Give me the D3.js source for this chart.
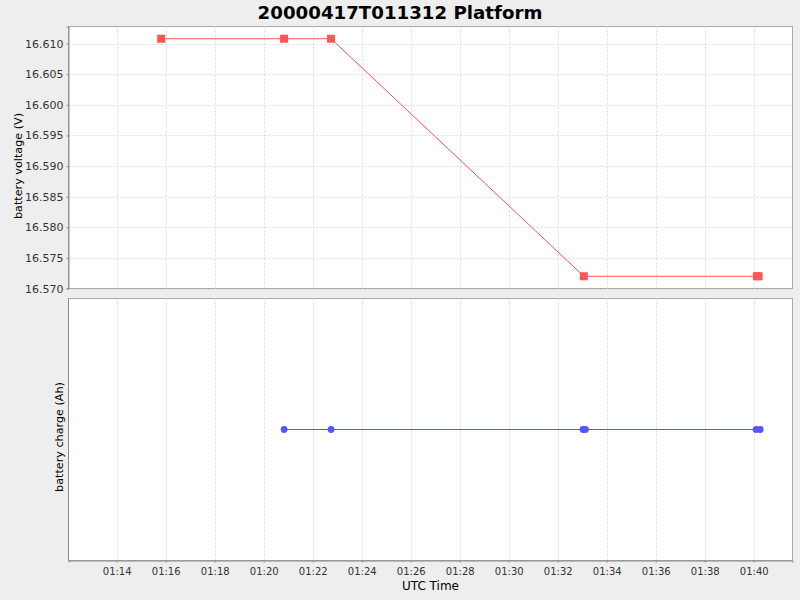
<!DOCTYPE html>
<html><head><meta charset="utf-8">
<script src="https://cdn.jsdelivr.net/npm/d3@7"></script>
<style>
html,body{margin:0;padding:0;background:#eeeeee;}
svg{display:block;font-family:"DejaVu Sans",sans-serif;}
</style></head>
<body><svg id="c" width="800" height="600"></svg>
<script>
const title = "20000417T011312 Platform";
const voltageTimes = ["01:15:49","01:20:50","01:22:45","01:33:04","01:40:08","01:40:12"];
const voltageValues = [16.6108,16.6108,16.6108,16.572,16.572,16.572];
const chargeTimes = ["01:20:50","01:22:45","01:33:02","01:33:08","01:40:06","01:40:16"];
const chargeValues = [0,0,0,0,0,0];
const voltageTicks = [16.570,16.575,16.580,16.585,16.590,16.595,16.600,16.605,16.610];
const timeTicks = ["01:14","01:16","01:18","01:20","01:22","01:24","01:26","01:28","01:30","01:32","01:34","01:36","01:38","01:40"];
const timeDomain = ["01:12:02","01:41:35"];
const voltageDomain = [16.570, 16.6128];
const chargeDomain = [-1, 1];

const parse = d3.timeParse("%H:%M:%S");
const parseHM = d3.timeParse("%H:%M");
const svg = d3.select("#c");
const L = 68.5, R = 792.5;
const top1 = 26.5, bot1 = 288.5, top2 = 298.5, bot2 = 560.5;

const x = d3.scaleTime().domain(timeDomain.map(parse)).range([L, R]);
const y1 = d3.scaleLinear().domain(voltageDomain).range([bot1, top1]);
const y2 = d3.scaleLinear().domain(chargeDomain).range([bot2, top2]);

svg.append("text").attr("x", 400).attr("y", 19).attr("text-anchor", "middle")
  .attr("font-size", 18.2).attr("font-weight", "bold").attr("fill", "#000").text(title);

function panel(top, bot) {
  svg.append("rect").attr("x", L).attr("y", top).attr("width", R - L).attr("height", bot - top)
    .attr("fill", "#fff").attr("stroke", "#aaaaaa").attr("stroke-width", 1);
  const g = svg.append("g");
  timeTicks.forEach(t => {
    const xx = Math.round(x(parseHM(t))) + 0.5;
    g.append("line").attr("x1", xx).attr("x2", xx).attr("y1", top).attr("y2", bot)
      .attr("stroke", "#dddddd").attr("stroke-dasharray", "2,2");
  });
  return g;
}

const g1 = panel(top1, bot1);
voltageTicks.forEach(v => {
  const yy = Math.round(y1(v)) + 0.5;
  g1.append("line").attr("x1", L).attr("x2", R).attr("y1", yy).attr("y2", yy)
    .attr("stroke", "#dddddd").attr("stroke-dasharray", "2,2");
});
panel(top2, bot2);

const ax1 = svg.append("g").attr("transform", `translate(${L},0)`)
  .call(d3.axisLeft(y1).tickValues(voltageTicks).tickFormat(d3.format(".3f")).tickSize(2).tickPadding(3));
ax1.select(".domain").attr("stroke", "#888");
ax1.selectAll(".tick line").attr("stroke", "#888");
ax1.selectAll("text").attr("font-size", 11).attr("fill", "#333").attr("font-family", "DejaVu Sans");

svg.append("line").attr("x1", L).attr("x2", L).attr("y1", top2).attr("y2", bot2).attr("stroke", "#888");

const axb = svg.append("g").attr("transform", `translate(0,${bot2})`)
  .call(d3.axisBottom(x).tickValues(timeTicks.map(parseHM)).tickFormat(d3.timeFormat("%H:%M")).tickSize(2).tickPadding(5));
axb.select(".domain").attr("stroke", "#888");
axb.selectAll(".tick line").attr("stroke", "#888");
axb.selectAll("text").attr("font-size", 10).attr("fill", "#333").attr("font-family", "DejaVu Sans");

svg.append("text").attr("transform", "translate(22,166) rotate(-90)").attr("text-anchor", "middle")
  .attr("font-size", 11.2).attr("fill", "#000").text("battery voltage (V)");
svg.append("text").attr("transform", "translate(63,437) rotate(-90)").attr("text-anchor", "middle")
  .attr("font-size", 11.2).attr("fill", "#000").text("battery charge (Ah)");
svg.append("text").attr("x", (L + R) / 2).attr("y", 590).attr("text-anchor", "middle")
  .attr("font-size", 12).attr("fill", "#000").text("UTC Time");

const vData = voltageTimes.map((t, i) => ({t: parse(t), v: voltageValues[i]}));
svg.append("path").datum(vData)
  .attr("d", d3.line().x(d => x(d.t)).y(d => y1(d.v)))
  .attr("fill", "none").attr("stroke", "#ff5555").attr("stroke-width", 1);
svg.selectAll(".sq").data(vData).enter().append("rect")
  .attr("x", d => x(d.t) - 4).attr("y", d => y1(d.v) - 4)
  .attr("width", 8).attr("height", 8).attr("fill", "#ff5555");

const cData = chargeTimes.map((t, i) => ({t: parse(t), v: chargeValues[i]}));
svg.append("path").datum(cData)
  .attr("d", d3.line().x(d => x(d.t)).y(d => y2(d.v)))
  .attr("fill", "none").attr("stroke", "#5555ff").attr("stroke-width", 1);
svg.selectAll(".dot").data(cData).enter().append("circle")
  .attr("cx", d => x(d.t)).attr("cy", d => y2(d.v)).attr("r", 3.4).attr("fill", "#5555ff");
</script></body></html>
